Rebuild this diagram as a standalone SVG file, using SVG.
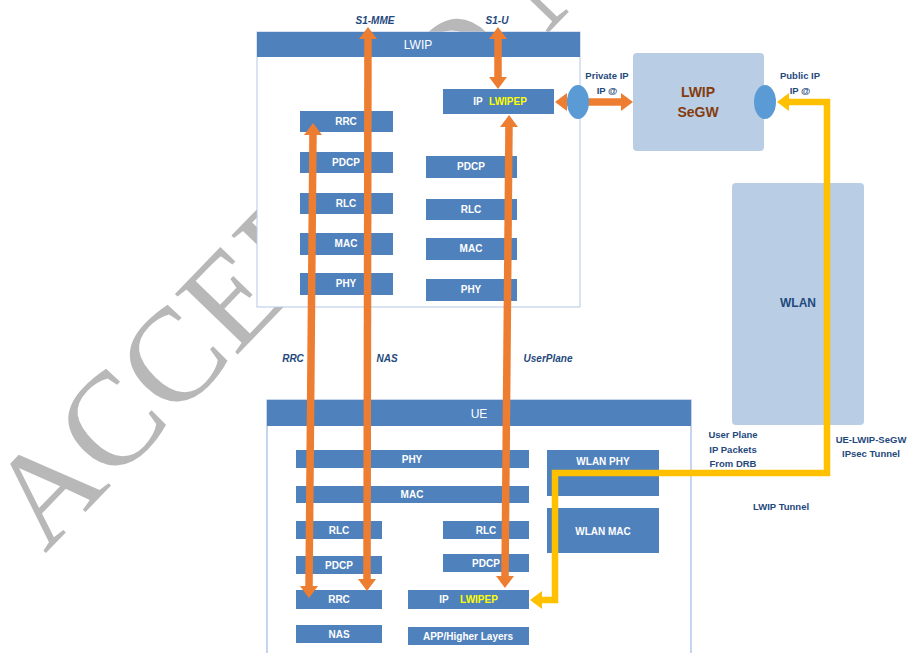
<svg xmlns="http://www.w3.org/2000/svg" width="911" height="653" viewBox="0 0 911 653">
<style>
.box{fill:#4f81bd;}
.bt{font-family:"Liberation Sans",Arial,sans-serif;font-size:10px;font-weight:bold;fill:#ffffff;text-anchor:middle;}
.yl{fill:#ffff00;}
.hd{font-family:"Liberation Sans",Arial,sans-serif;font-size:12px;fill:#ffffff;text-anchor:middle;}
.lab{font-family:"Liberation Sans",Arial,sans-serif;font-size:10px;font-weight:bold;font-style:italic;fill:#1f497d;text-anchor:middle;}
.nt{font-family:"Liberation Sans",Arial,sans-serif;font-size:9.5px;font-weight:bold;fill:#1f497d;text-anchor:middle;}
.big{font-family:"Liberation Sans",Arial,sans-serif;font-size:14px;font-weight:bold;fill:#843c0c;text-anchor:middle;}
.lb{fill:#b9cde5;}
.ell{fill:#5b9bd5;}
.or{stroke:#ed7d31;stroke-width:7.5;fill:none;marker-start:url(#oh);marker-end:url(#oh);}
.ye{stroke:#ffc000;stroke-width:6.5;fill:none;marker-start:url(#yh);marker-end:url(#yh);}
.wm{font-family:"Liberation Serif","Times New Roman",serif;font-size:133px;fill:#b8b8b8;}
</style>
<defs>
<marker id="oh" markerUnits="userSpaceOnUse" markerWidth="14" markerHeight="18" viewBox="0 0 12 18" refX="2" refY="9" orient="auto-start-reverse">
<path d="M0,0 L12,9 L0,18 z" fill="#ed7d31"/>
</marker>
<marker id="yh" markerUnits="userSpaceOnUse" markerWidth="14" markerHeight="18" viewBox="0 0 12 18" refX="2" refY="9" orient="auto-start-reverse">
<path d="M0,0 L12,9 L0,18 z" fill="#ffc000"/>
</marker>
</defs>
<rect width="911" height="653" fill="#ffffff"/>
<text class="wm" transform="translate(45,554) rotate(-46)">ACCEPTED MANUSCRIPT</text>

<g id="lwip">
<rect x="257" y="32" width="323" height="275" fill="#ffffff" stroke="#b4c7e7" stroke-width="1"/>
<rect x="257" y="32" width="323" height="25" class="box"/>
<text class="hd" x="418" y="49">LWIP</text>
</g>
<g id="lwip-rrc"><rect class="box" x="300" y="111" width="93" height="21"/><text class="bt" x="346" y="125">RRC</text></g>
<g id="lwip-pdcp"><rect class="box" x="300" y="152" width="93" height="21"/><text class="bt" x="346" y="166">PDCP</text></g>
<g id="lwip-rlc"><rect class="box" x="300" y="193" width="93" height="21"/><text class="bt" x="346" y="207">RLC</text></g>
<g id="lwip-mac"><rect class="box" x="300" y="233" width="93" height="22"/><text class="bt" x="346" y="247">MAC</text></g>
<g id="lwip-phy"><rect class="box" x="300" y="273" width="93" height="22"/><text class="bt" x="346" y="287">PHY</text></g>
<g id="lwip-ip"><rect class="box" x="443" y="89" width="111" height="25"/><text class="bt" x="478" y="105">IP</text><text class="bt yl" x="508" y="105">LWIPEP</text></g>
<g id="lwip-pdcp2"><rect class="box" x="426" y="156" width="91" height="22"/><text class="bt" x="471" y="170">PDCP</text></g>
<g id="lwip-rlc2"><rect class="box" x="426" y="199" width="91" height="21"/><text class="bt" x="471" y="213">RLC</text></g>
<g id="lwip-mac2"><rect class="box" x="426" y="238" width="91" height="22"/><text class="bt" x="471" y="252">MAC</text></g>
<g id="lwip-phy2"><rect class="box" x="426" y="279" width="91" height="22"/><text class="bt" x="471" y="293">PHY</text></g>

<g id="segw"><rect class="lb" x="633" y="53" width="131" height="98" rx="4"/><text class="big" x="698" y="97">LWIP</text><text class="big" x="698" y="117">SeGW</text></g>
<g id="wlan"><rect class="lb" x="732" y="183" width="132" height="242" rx="4"/><text class="nt" x="798" y="307" style="font-size:12px">WLAN</text></g>

<g id="ue">
<rect x="267" y="400" width="424" height="260" fill="#ffffff" stroke="#8eaadb" stroke-width="1"/>
<rect x="267" y="400" width="424" height="26" class="box"/>
<text class="hd" x="479" y="418">UE</text>
</g>
<g id="ue-phy"><rect class="box" x="296" y="450" width="233" height="18"/><text class="bt" x="412" y="463">PHY</text></g>
<g id="ue-mac"><rect class="box" x="296" y="486" width="233" height="17"/><text class="bt" x="412" y="498">MAC</text></g>
<g id="ue-rlc"><rect class="box" x="296" y="521" width="86" height="18"/><text class="bt" x="339" y="534">RLC</text></g>
<g id="ue-pdcp"><rect class="box" x="296" y="556" width="86" height="18"/><text class="bt" x="339" y="569">PDCP</text></g>
<g id="ue-rrc"><rect class="box" x="296" y="590" width="86" height="19"/><text class="bt" x="339" y="603">RRC</text></g>
<g id="ue-nas"><rect class="box" x="296" y="625" width="86" height="18"/><text class="bt" x="339" y="638">NAS</text></g>
<g id="ue-rlc2"><rect class="box" x="443" y="521" width="86" height="18"/><text class="bt" x="486" y="534">RLC</text></g>
<g id="ue-pdcp2"><rect class="box" x="443" y="554" width="86" height="18"/><text class="bt" x="486" y="567">PDCP</text></g>
<g id="ue-ip"><rect class="box" x="408" y="590" width="121" height="19"/><text class="bt" x="444" y="603">IP</text><text class="bt yl" x="479" y="603">LWIPEP</text></g>
<g id="ue-app"><rect class="box" x="408" y="627" width="121" height="18"/><text class="bt" x="468" y="640">APP/Higher Layers</text></g>
<g id="wlan-phy"><rect class="box" x="547" y="450" width="112" height="46"/><text class="bt" x="603" y="465">WLAN PHY</text></g>
<g id="wlan-mac"><rect class="box" x="547" y="508" width="112" height="45"/><text class="bt" x="603" y="535">WLAN MAC</text></g>

<g id="labels">
<text class="lab" x="375" y="24">S1-MME</text>
<text class="lab" x="497" y="24">S1-U</text>
<text class="lab" x="293" y="362">RRC</text>
<text class="lab" x="387" y="362">NAS</text>
<text class="lab" x="548" y="362">UserPlane</text>
<text class="nt" x="607" y="79">Private IP</text>
<text class="nt" x="607" y="94">IP @</text>
<text class="nt" x="800" y="79">Public IP</text>
<text class="nt" x="800" y="94">IP @</text>
<text class="nt" x="733" y="438">User Plane</text>
<text class="nt" x="733" y="453">IP Packets</text>
<text class="nt" x="733" y="467">From DRB</text>
<text class="nt" x="871" y="443">UE-LWIP-SeGW</text>
<text class="nt" x="871" y="457">IPsec Tunnel</text>
<text class="nt" x="781" y="510">LWIP Tunnel</text>
</g>

<g id="connectors">
<line class="or" x1="368" y1="37" x2="367" y2="581"/>
<line class="or" x1="498" y1="37" x2="498" y2="79"/>
<line class="or" x1="313" y1="133" x2="309" y2="588"/>
<line class="or" x1="509" y1="125" x2="505" y2="578"/>
<line class="or" x1="565" y1="102" x2="623" y2="102"/>
<polyline class="ye" points="787,102 827,102 827,473 555,473 555,600 540,600"/>
</g>
<g id="ip-endpoints">
<ellipse class="ell" cx="578" cy="102" rx="11" ry="17"/>
<ellipse class="ell" cx="765" cy="102" rx="11" ry="17"/>
</g>
</svg>
